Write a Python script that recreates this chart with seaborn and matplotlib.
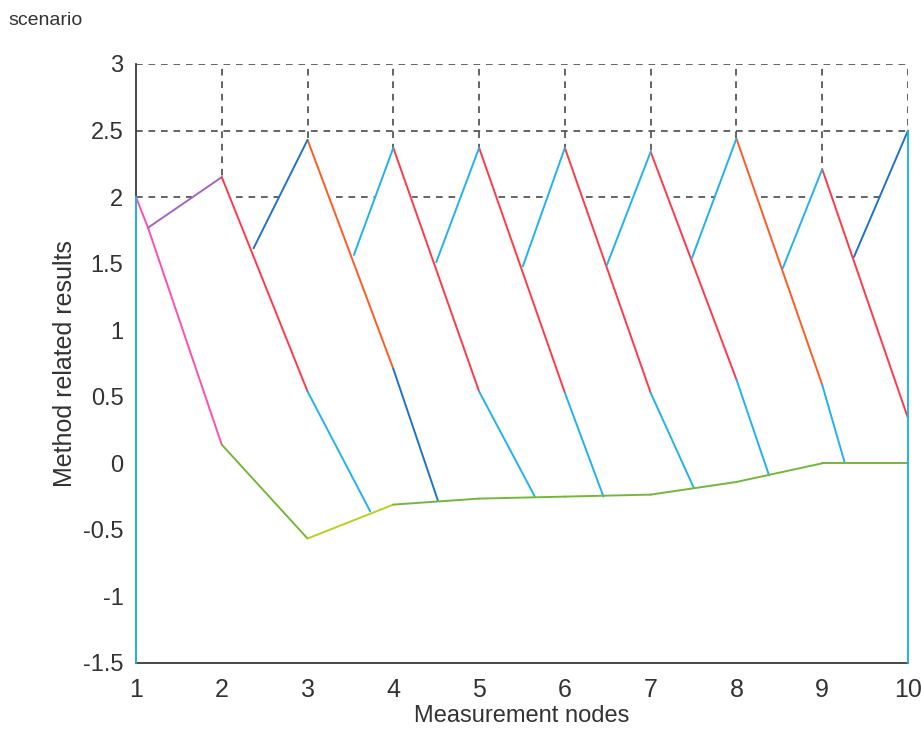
import matplotlib
matplotlib.use("Agg")
import matplotlib.pyplot as plt
from matplotlib import font_manager
import seaborn as sns

# ---- data -------------------------------------------------------------
nodes = [1, 2, 3, 4, 5, 6, 7, 8, 9, 10]
x_ticks = [1, 2, 3, 4, 5, 6, 7, 8, 9, 10]
y_ticks = [-1.5, -1, -0.5, 0, 0.5, 1, 1.5, 2, 2.5, 3]
y_tick_labels = ["-1.5", "-1", "-0.5", "0", "0.5", "1", "1.5", "2", "2.5", "3"]

# starting scenario at node 1
start_x = [1.0, 1.14, 2.0]
start_y = [2.0, 1.77, 0.14]
start_peak_y = 2.15          # purple rise to node 2

# upper saw-tooth: peaks at nodes 2..10 and valleys between them
peak_x = [2, 3, 4, 5, 6, 7, 8, 9, 10]
peak_y = [2.15, 2.43, 2.37, 2.37, 2.37, 2.34, 2.44, 2.21, 2.50]
valley_x = [2.37, 3.54, 4.50, 5.51, 6.49, 7.48, 8.54, 9.37]
valley_y = [1.615, 1.565, 1.51, 1.48, 1.49, 1.54, 1.465, 1.55]

# falling branches: value reached at the next node, then foot on the baseline
mid_x = [3, 4, 5, 6, 7, 8, 9, 10]
mid_y = [0.54, 0.71, 0.54, 0.53, 0.53, 0.63, 0.59, 0.34]
foot_x = [3.73, 4.52, 5.65, 6.45, 7.50, 8.38, 9.26]
foot_y = [-0.36, -0.28, -0.25, -0.25, -0.18, -0.09, 0.01]

# lower baseline over nodes 2..10
base_x = [2, 3, 4, 5, 6, 7, 8, 9, 10]
base_y = [0.14, -0.565, -0.31, -0.265, -0.25, -0.235, -0.14, 0.0, 0.0]

# boundary verticals
left_top, right_top, y_floor = 2.0, 2.5, -1.5

# ---- styling ----------------------------------------------------------
sns.set_theme(style="white")
names = {f.name for f in font_manager.fontManager.ttflist}
main_font = "Liberation Sans" if "Liberation Sans" in names else "DejaVu Sans"
plt.rcParams["font.family"] = [main_font, "DejaVu Sans"]

c_pink = "#ff4fae"
c_purple = "#a564c4"
c_red = "#ff3a48"
c_orange = "#ff5a24"
c_cyan = "#22b2ee"
c_blue = "#1f73c8"
c_green = "#74b83a"
c_yellow = "#b6d41e"
c_grid = "#4a4a4a"
lw = 1.4

fig = plt.figure(figsize=(9.22, 7.33), dpi=100)
ax = fig.add_axes([0.1475, 0.0955, 0.8373, 0.8172])
ax.set_facecolor("white")


def seg(xs, ys, color, z=3):
    sns.lineplot(x=xs, y=ys, color=color, sort=False, estimator=None,
                 linewidth=lw, ax=ax, zorder=z, clip_on=False)


# dashed grid, hidden below the saw-tooth by a white mask
for yv in y_ticks:
    ax.axhline(yv, color=c_grid, lw=1.2, ls=(0, (4, 3.5)), zorder=0.5)
for xv in x_ticks[1:]:
    ax.axvline(xv, color=c_grid, lw=1.2, ls=(0, (4, 3.5)), zorder=0.5)

env_x = [start_x[0], start_x[1]]
env_y = [start_y[0], start_y[1]]
env_x.append(peak_x[0]); env_y.append(peak_y[0])
for i in range(len(valley_x)):
    env_x += [valley_x[i], peak_x[i + 1]]
    env_y += [valley_y[i], peak_y[i + 1]]
ax.fill_between(env_x, env_y, y_floor, color="white", zorder=1, linewidth=0)

# node 1 scenario
seg(start_x, start_y, c_pink)
seg([start_x[1], peak_x[0]], [start_y[1], start_peak_y], c_purple)

# falling branches (red part to the next node, cyan part to the baseline)
red_cols = [c_red, c_orange, c_red, c_red, c_red, c_red, c_orange, c_red]
low_cols = [c_cyan, c_blue, c_cyan, c_cyan, c_cyan, c_cyan, c_cyan]
for i in range(len(mid_x)):
    seg([peak_x[i], mid_x[i]], [peak_y[i], mid_y[i]], red_cols[i])
    if i < len(foot_x):
        seg([mid_x[i], foot_x[i]], [mid_y[i], foot_y[i]], low_cols[i])

# rising branches from each valley to the next peak
rise_cols = [c_blue, c_cyan, c_cyan, c_cyan, c_cyan, c_cyan, c_cyan, c_blue]
for i in range(len(valley_x)):
    seg([valley_x[i], peak_x[i + 1]], [valley_y[i], peak_y[i + 1]], rise_cols[i], z=3.2)

# baseline
base_cols = [c_green, c_yellow] + [c_green] * 6
for i in range(len(base_x) - 1):
    seg(base_x[i:i + 2], base_y[i:i + 2], base_cols[i], z=3.1)

# boundary verticals
seg([nodes[0], nodes[0]], [left_top, y_floor], c_cyan, z=4)
seg([nodes[-1], nodes[-1]], [right_top, y_floor], c_cyan, z=4)

# ---- axes -------------------------------------------------------------
ax.set_xlim(1, 10)
ax.set_ylim(-1.5, 3)
ax.set_xticks(x_ticks)
ax.set_xticklabels([str(v) for v in x_ticks])
ax.set_yticks(y_ticks)
ax.set_yticklabels(y_tick_labels)
for s in ("top", "right"):
    ax.spines[s].set_visible(False)
for s in ("left", "bottom"):
    ax.spines[s].set_color("#3a3a3a")
    ax.spines[s].set_linewidth(1.3)
    ax.spines[s].set_zorder(2)
ax.tick_params(axis="x", direction="in", length=5, width=1.1, color="#3a3a3a",
               labelsize=18, pad=11, labelcolor="#333333")
ax.tick_params(axis="y", direction="in", length=0, labelsize=17, pad=9,
               labelcolor="#333333")
ax.set_xlabel("Measurement nodes", fontsize=17, color="#333333", labelpad=2)
ax.set_ylabel("Method related results", fontsize=18, color="#333333", labelpad=4)
fig.text(0.009, 0.972, "scenario", fontsize=14, color="#333333", va="center", ha="left")

fig.savefig("out.png", dpi=100, facecolor="white")
